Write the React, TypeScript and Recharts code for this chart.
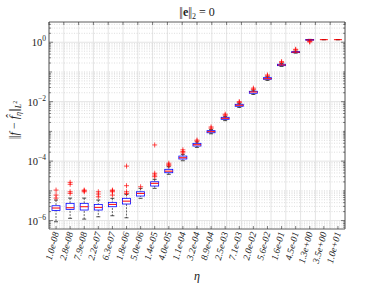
import React from 'react';
import { ComposedChart, Bar, Scatter, XAxis, YAxis, CartesianGrid } from 'recharts';

const etas = [
  '1.0e-08', '2.8e-08', '7.9e-08', '2.2e-07', '6.3e-07', '1.8e-06', '5.0e-06',
  '1.4e-05', '4.0e-05', '1.1e-04', '3.2e-04', '8.9e-04', '2.5e-03', '7.1e-03',
  '2.0e-02', '5.6e-02', '1.6e-01', '4.5e-01', '1.3e+00', '3.5e+00', '1.0e+01',
];

// box plot stats per eta
const whiskerLow = [9.1e-7, 1.19e-6, 1.12e-6, 1.34e-6, 1.45e-6, 1.24e-6, 5.6e-6, 1.21e-5, 3.6e-5, 1.03e-4, 2.9e-4, 8.3e-4, 2.3e-3, 6.4e-3, 1.75e-2, 5.2e-2, 0.153, 0.43, 1.15, 1.22, 1.22];
const q1 = [2.2e-6, 2.38e-6, 2.26e-6, 2.26e-6, 2.92e-6, 3.6e-6, 6.7e-6, 1.45e-5, 4.07e-5, 1.18e-4, 3.22e-4, 9.0e-4, 2.55e-3, 7.0e-3, 1.92e-2, 5.68e-2, 0.163, 0.447, 1.17, 1.22, 1.22];
const medians = [2.64e-6, 2.7e-6, 2.92e-6, 2.78e-6, 3.5e-6, 4.5e-6, 8.2e-6, 1.79e-5, 4.6e-5, 1.3e-4, 3.56e-4, 9.8e-4, 2.76e-3, 7.57e-3, 2.12e-2, 5.94e-2, 0.172, 0.464, 1.195, 1.22, 1.22];
const q3 = [3.15e-6, 3.8e-6, 3.8e-6, 3.5e-6, 4.1e-6, 5.6e-6, 9.3e-6, 2.02e-5, 5.3e-5, 1.48e-4, 3.97e-4, 1.06e-3, 2.98e-3, 8.17e-3, 2.24e-2, 6.43e-2, 0.182, 0.483, 1.23, 1.22, 1.22];
const whiskerHigh = [4.9e-6, 5.7e-6, 5.7e-6, 4.9e-6, 5.6e-6, 7.6e-6, 1.21e-5, 2.44e-5, 6.5e-5, 1.69e-4, 4.4e-4, 1.15e-3, 3.2e-3, 8.8e-3, 2.43e-2, 6.9e-2, 0.193, 0.5, 1.25, 1.22, 1.22];
const outliers: number[][] = [
  [1.06e-5, 7.2e-6, 5.7e-6],
  [1.93e-5, 1.66e-5, 9.3e-6, 8.2e-6],
  [1.06e-5, 9.3e-6, 1.0e-5],
  [9.3e-6, 7.8e-6, 6.3e-6],
  [1.06e-5, 9.3e-6, 7.2e-6, 1.0e-5],
  [6.8e-5, 1.49e-5, 9.3e-6, 8.2e-6],
  [1.37e-5],
  [3.5e-4, 3.9e-5, 3.4e-5, 3.0e-5],
  [8.5e-5, 7.6e-5, 7.0e-5],
  [2.4e-4, 2.1e-4, 1.9e-4],
  [5.1e-4, 4.7e-4],
  [1.41e-3, 1.28e-3],
  [3.8e-3, 3.5e-3],
  [1.0e-2, 9.5e-3],
  [2.85e-2, 2.6e-2],
  [7.9e-2, 7.3e-2],
  [0.222, 0.21],
  [0.58, 0.55],
  [1.06, 1.02],
  [],
  [],
];

const yDomain = [5.2e-7, 4.8];
const majorTicks = [1e-6, 1e-4, 1e-2, 1];
const decades = [-7, -6, -5, -4, -3, -2, -1, 0];
const mults = [1, 2, 3, 4, 5, 6, 7, 8, 9];

const allTicks: number[] = [];
decades.forEach((d) => mults.forEach((m) => {
  const v = +(m * Math.pow(10, d)).toPrecision(3);
  if (v >= yDomain[0] && v <= yDomain[1]) allTicks.push(v);
}));
const isMajor = (v: number) => majorTicks.some((t) => Math.abs(t - v) / t < 1e-6);
const minorTicks = allTicks.filter((v) => !isMajor(v));

const MAX_OUT = 4;
const data = etas.map((eta, i) => {
  const row: any = {
    eta,
    whisker: [whiskerLow[i], whiskerHigh[i]],
    box: [q1[i], q3[i]],
    med: medians[i],
  };
  for (let k = 0; k < MAX_OUT; k++) row['o' + k] = outliers[i][k] ?? null;
  return row;
});

const SERIF = '"Liberation Serif", "DejaVu Serif", serif';
const AXIS = '#333';

const WhiskerShape = (p: any) => {
  const { x, y, width, height } = p;
  const cx = x + width / 2;
  const top = Math.min(y, y + height);
  const bot = Math.max(y, y + height);
  return (
    <g>
      <line x1={cx} x2={cx} y1={top} y2={bot} stroke="#000" strokeWidth={0.6} strokeDasharray="2 1.2" />
      <line x1={cx - 2} x2={cx + 2} y1={top} y2={top} stroke="#000" strokeWidth={0.7} />
      <line x1={cx - 2} x2={cx + 2} y1={bot} y2={bot} stroke="#000" strokeWidth={0.7} />
    </g>
  );
};

const BoxShape = (p: any) => {
  const { x, y, width, height } = p;
  const top = Math.min(y, y + height);
  return <rect x={x} y={top} width={width} height={Math.abs(height)} fill="#fff" stroke="#0000ff" strokeWidth={0.8} />;
};

const MedianShape = (p: any) => {
  const { cx, cy } = p;
  if (!Number.isFinite(cx) || !Number.isFinite(cy)) return <g />;
  return <line x1={cx - 4} x2={cx + 4} y1={cy} y2={cy} stroke="#ff0000" strokeWidth={1} />;
};

const makePlus = (key: string) => (p: any) => {
  const { cx, cy, payload } = p;
  if (!payload || payload[key] == null || !Number.isFinite(cx) || !Number.isFinite(cy)) return <g />;
  const s = 2.5;
  return (
    <g stroke="#ff0000" strokeWidth={0.7}>
      <line x1={cx - s} x2={cx + s} y1={cy} y2={cy} />
      <line x1={cx} x2={cx} y1={cy - s} y2={cy + s} />
    </g>
  );
};

const LeftTick = (p: any) => {
  const { x, y, payload } = p;
  const v = payload.value;
  const major = isMajor(v);
  const exp = Math.round(Math.log10(v));
  const decade = Math.abs(Math.pow(10, exp) - v) / v < 1e-6;
  return (
    <g>
      <line x1={x} x2={x + (major ? 4 : decade ? 3 : 2)} y1={y} y2={y} stroke={AXIS} strokeWidth={0.6} />
      {major && (
        <text x={x - 3} y={y + 4} textAnchor="end" fontSize={10.5} fontFamily={SERIF} fill="#222">
          10<tspan dy={-5} fontSize={7.5}>{exp === 0 ? '0' : '\u2212' + Math.abs(exp)}</tspan>
        </text>
      )}
    </g>
  );
};

const RightTick = (p: any) => {
  const { x, y, payload } = p;
  const v = payload.value;
  const major = isMajor(v);
  return <line x1={x} x2={x - (major ? 4 : 2)} y1={y} y2={y} stroke={AXIS} strokeWidth={0.6} />;
};

const BottomTick = (p: any) => {
  const { x, y, payload } = p;
  return (
    <g>
      <line x1={x} x2={x} y1={y} y2={y - 3} stroke={AXIS} strokeWidth={0.6} />
      <text
        transform={`translate(${x + 3},${y + 4}) rotate(-75)`}
        textAnchor="end"
        fontSize={9.5}
        fontStyle="italic"
        fontFamily={SERIF}
        fill="#222"
      >
        {payload.value}
      </text>
    </g>
  );
};

const TopTick = (p: any) => {
  const { x, y } = p;
  return <line x1={x} x2={x} y1={y} y2={y + 3} stroke={AXIS} strokeWidth={0.6} />;
};

const Norm = () => <span style={{ letterSpacing: -1, marginRight: 1 }}>||</span>;

export default function App() {
  return (
    <div style={{ position: 'absolute', left: 0, top: 0, width: 382, height: 286, background: '#fff', fontFamily: SERIF }}>
      <ComposedChart
        width={382}
        height={286}
        data={data}
        margin={{ top: 21, right: 36, bottom: 17, left: 13 }}
        barGap={-8}
      >
        <CartesianGrid xAxisId="t" horizontalValues={majorTicks} stroke="#e4e4e4" strokeWidth={1} />
        <CartesianGrid vertical={false} horizontalValues={minorTicks} stroke="#c8c8c8" strokeWidth={0.6} strokeDasharray="1 1.5" />
        <XAxis
          dataKey="eta"
          type="category"
          interval={0}
          height={40}
          tickSize={0}
          tickMargin={0}
          tickLine={false}
          tick={<BottomTick />}
          axisLine={{ stroke: AXIS, strokeWidth: 0.8 }}
        />
        <XAxis
          xAxisId="t"
          orientation="top"
          type="number"
          domain={[-0.5, etas.length - 0.5]}
          ticks={etas.map((_, i) => i)}
          interval={0}
          height={1}
          tickSize={0}
          tickMargin={0}
          tickLine={false}
          tick={<TopTick />}
          axisLine={{ stroke: AXIS, strokeWidth: 0.8 }}
          allowDataOverflow
        />
        <YAxis
          scale="log"
          domain={yDomain}
          allowDataOverflow
          ticks={allTicks}
          interval={0}
          width={36}
          tickSize={0}
          tickMargin={0}
          tickLine={false}
          tick={<LeftTick />}
          axisLine={{ stroke: AXIS, strokeWidth: 0.8 }}
        />
        <YAxis
          yAxisId="r"
          orientation="right"
          scale="log"
          domain={yDomain}
          allowDataOverflow
          ticks={allTicks}
          interval={0}
          width={1}
          tickSize={0}
          tickMargin={0}
          tickLine={false}
          tick={<RightTick />}
          axisLine={{ stroke: AXIS, strokeWidth: 0.8 }}
        />
        <Bar dataKey="whisker" barSize={8} shape={<WhiskerShape />} isAnimationActive={false} />
        <Bar dataKey="box" barSize={8} shape={<BoxShape />} isAnimationActive={false} />
        <Scatter dataKey="med" shape={<MedianShape />} isAnimationActive={false} />
        {Array.from({ length: MAX_OUT }, (_, k) => (
          <Scatter key={k} dataKey={'o' + k} shape={makePlus('o' + k)} isAnimationActive={false} />
        ))}
      </ComposedChart>
      <div style={{ position: 'absolute', left: 197, top: 13, transform: 'translate(-50%,-50%)', fontSize: 12, whiteSpace: 'nowrap', color: '#222' }}>
        <Norm /><b>e</b><Norm /><sub style={{ fontSize: 8 }}>2</sub> = 0
      </div>
      <div style={{ position: 'absolute', left: 15, top: 120, transform: 'translate(-50%,-50%) rotate(-90deg)', fontSize: 12, whiteSpace: 'nowrap', color: '#222' }}>
        <Norm /><i>f</i> − <i>f&#770;</i><sub style={{ fontSize: 8 }}><i>η</i></sub><Norm /><sub style={{ fontSize: 8 }}><i>L</i><sup style={{ fontSize: 6 }}>2</sup></sub>
      </div>
      <div style={{ position: 'absolute', left: 197, top: 276, transform: 'translate(-50%,-50%)', fontSize: 12, color: '#222' }}>
        <i>η</i>
      </div>
    </div>
  );
}
